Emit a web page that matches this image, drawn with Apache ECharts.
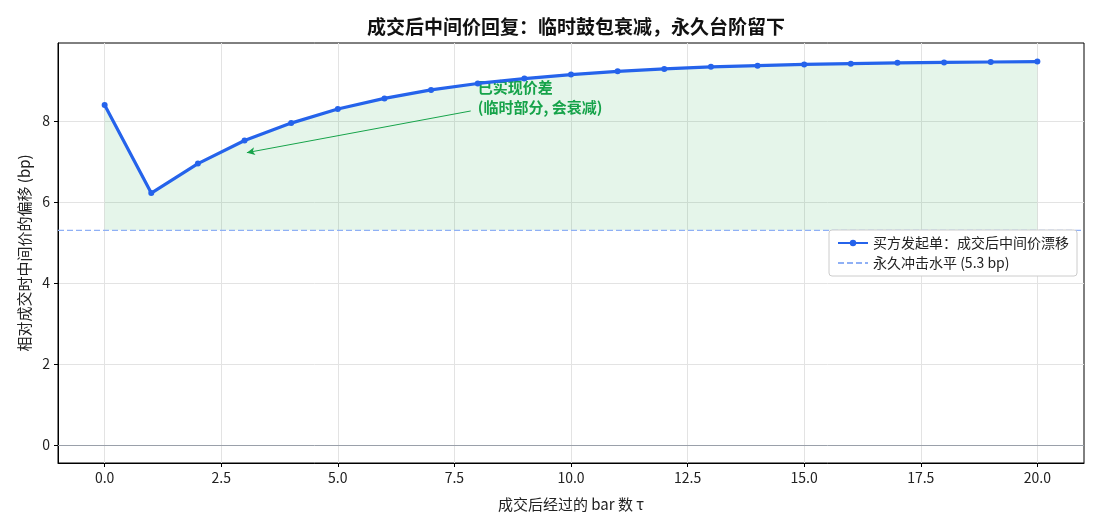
<!DOCTYPE html>
<html lang="zh">
<head>
  <meta charset="utf-8">
</head>
<body style="margin: 0">
  <div id="container" style="width: 1100px; height: 528px"></div>
  <script type="text/javascript" src="https://cdn.jsdelivr.net/npm/echarts@6/dist/echarts.min.js"></script>
  <script type="text/javascript">
    // 数据
    var tau = [0, 1, 2, 3, 4, 5, 6, 7, 8, 9, 10, 11, 12, 13, 14, 15, 16, 17, 18, 19, 20];
    var drift = [8.40, 6.22, 6.95, 7.52, 7.95, 8.30, 8.56, 8.77, 8.93, 9.05, 9.15, 9.23, 9.29, 9.34, 9.37, 9.40, 9.42, 9.44, 9.45, 9.46, 9.47];
    var permanent = 5.3;
    var xTicks = [0, 2.5, 5, 7.5, 10, 12.5, 15, 17.5, 20];
    var yTicks = [0, 2, 4, 6, 8];

    var FONT = "'Noto Sans CJK SC', 'Noto Sans', sans-serif";
    var blue = '#2563eb';
    var green = '#16a34a';
    var dashBlue = '#8fb0f5';

    var pts = tau.map(function (t, i) { return [t, drift[i]]; });

    var dom = document.getElementById('container');
    var myChart = echarts.init(dom, null, { renderer: 'canvas' });

    var option = {
      animation: false,
      textStyle: { fontFamily: FONT },
      title: {
        text: '成交后中间价回复：临时鼓包衰减，永久台阶留下',
        left: 571,
        textAlign: 'center',
        top: 12,
        textStyle: { fontSize: 19, fontWeight: 'bold', color: '#111', fontFamily: FONT }
      },
      grid: {
        left: 58, right: 16, top: 43, bottom: 65,
        show: true, borderColor: '#000', borderWidth: 1, backgroundColor: 'transparent'
      },
      legend: {
        data: [
          { name: '买方发起单：成交后中间价漂移' },
          { name: '永久冲击水平 (5.3 bp)', itemStyle: { opacity: 0 } }
        ],
        orient: 'vertical',
        right: 23, top: 230,
        padding: [4, 8, 4, 8],
        itemGap: 2,
        itemWidth: 30, itemHeight: 8,
        backgroundColor: '#fff',
        borderColor: '#ccc', borderWidth: 1, borderRadius: 3,
        textStyle: { fontSize: 14, color: '#222', fontFamily: FONT, lineHeight: 18 }
      },
      xAxis: {
        type: 'value',
        min: -1, max: 21,
        name: '成交后经过的 bar 数 τ',
        nameLocation: 'middle',
        nameGap: 34,
        nameTextStyle: { fontSize: 15, color: '#222' },
        axisLine: { show: true, onZero: false, lineStyle: { color: '#000' } },
        axisTick: { show: true, length: 4, customValues: xTicks, lineStyle: { color: '#000' } },
        axisLabel: {
          customValues: xTicks, fontSize: 14, color: '#222', margin: 8,
          formatter: function (v) { return v.toFixed(1); }
        },
        splitLine: { show: true, lineStyle: { color: '#e3e3e3' } }
      },
      yAxis: {
        type: 'value',
        min: -0.45, max: 9.93,
        name: '相对成交时中间价的偏移 (bp)',
        nameLocation: 'middle',
        nameGap: 26,
        nameTextStyle: { fontSize: 15, color: '#222' },
        axisLine: { show: true, onZero: false, lineStyle: { color: '#000' } },
        axisTick: { show: true, length: 4, customValues: yTicks, lineStyle: { color: '#000' } },
        axisLabel: { customValues: yTicks, fontSize: 14, color: '#222', margin: 8 },
        splitLine: { show: true, lineStyle: { color: '#e3e3e3' } }
      },
      series: [
        {
          name: 'fill',
          type: 'line',
          data: pts,
          symbol: 'none',
          lineStyle: { width: 0 },
          areaStyle: { color: 'rgba(22,163,74,0.16)', origin: permanent },
          silent: true,
          z: 1,
          markLine: {
            silent: true,
            symbol: 'none',
            label: { show: false },
            lineStyle: { color: '#9aa0aa', width: 1, type: 'solid' },
            data: [{ yAxis: 0 }]
          }
        },
        {
          name: '永久冲击水平 (5.3 bp)',
          type: 'line',
          data: [[-1, permanent], [21, permanent]],
          symbol: 'none',
          silent: true,
          lineStyle: { color: dashBlue, width: 1.3, type: [6, 3] },
          itemStyle: { color: dashBlue },
          z: 2
        },
        {
          name: '买方发起单：成交后中间价漂移',
          type: 'line',
          data: pts,
          symbol: 'circle',
          symbolSize: 6,
          showSymbol: true,
          lineStyle: { color: blue, width: 3.2 },
          itemStyle: { color: blue },
          z: 5,
          markLine: {
            silent: true,
            symbol: ['none', 'arrow'],
            symbolSize: [6, 8],
            label: { show: false },
            lineStyle: { color: green, width: 1, type: 'solid' },
            data: [[{ coord: [7.85, 8.25] }, { coord: [3.05, 7.22] }]]
          },
          markPoint: {
            silent: true,
            symbol: 'circle',
            symbolSize: 0,
            data: [{ coord: [8, 8.2] }],
            label: {
              show: true,
              position: [0, 4],
              align: 'left',
              verticalAlign: 'bottom',
              lineHeight: 20,
              fontSize: 15,
              fontWeight: 'bold',
              color: green,
              fontFamily: FONT,
              formatter: '已实现价差\n(临时部分, 会衰减)'
            }
          }
        }
      ]
    };

    myChart.setOption(option);
    window.addEventListener('resize', myChart.resize);
  </script>
</body>
</html>
